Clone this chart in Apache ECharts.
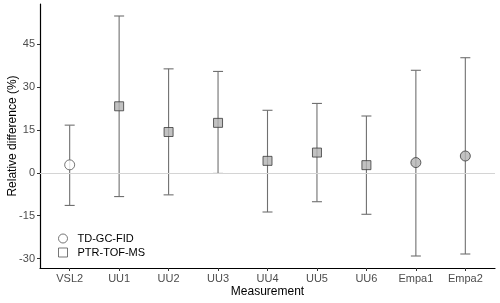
<!DOCTYPE html>
<html><head><meta charset="utf-8">
<script src="https://cdn.jsdelivr.net/npm/echarts@6/dist/echarts.min.js"></script>
<style>html,body{margin:0;padding:0;background:#fff}#c{width:500px;height:303px}</style>
</head><body><div id="c"></div>
<script>
var categories = ['VSL2','UU1','UU2','UU3','UU4','UU5','UU6','Empa1','Empa2'];
var methods = ['TD-GC-FID','PTR-TOF-MS','PTR-TOF-MS','PTR-TOF-MS','PTR-TOF-MS','PTR-TOF-MS','PTR-TOF-MS','TD-GC-FID','TD-GC-FID'];
var meanValues = [2.8, 23.3, 14.3, 17.5, 4.2, 7.1, 2.7, 3.6, 5.9];
var upperValues = [16.7, 54.9, 36.4, 35.5, 21.9, 24.3, 19.9, 35.9, 40.3];
var lowerValues = [-11.4, -8.3, -7.7, -0.2, -13.7, -10.1, -14.5, -29.1, -28.4];
var hollow = [true, false, false, false, false, false, false, false, false];
var yTicks = [-30, -15, 0, 15, 30, 45];

var font = 'Liberation Sans, Arial, sans-serif';
var xPos = categories.map(function(c, i){ return i + 1; });

function pointsFor(name){
  var out = [];
  categories.forEach(function(c, i){
    if (methods[i] !== name) return;
    out.push({value: [xPos[i], meanValues[i]], itemStyle: {color: hollow[i] ? '#ffffff' : '#b3b3b3', borderColor: hollow[i] ? '#555555' : '#3a3a3a'}});
  });
  return out;
}

var errData = categories.map(function(c, i){ return [xPos[i], lowerValues[i], upperValues[i]]; });

var chart = echarts.init(document.getElementById('c'), null, {renderer: 'canvas'});
chart.setOption({
  animation: false,
  backgroundColor: '#ffffff',
  grid: {left: 40, right: 5, top: 4, bottom: 35, containLabel: false, outerBoundsMode: 'none'},
  xAxis: {
    type: 'value', min: 0.4, max: 9.6,
    name: 'Measurement', nameLocation: 'middle', nameGap: 18, nameMoveOverlap: false,
    nameTextStyle: {color: '#000', fontSize: 12, fontFamily: font},
    axisLine: {show: true, onZero: false, lineStyle: {color: '#000', width: 1.2}},
    axisTick: {show: true, length: 3, lineStyle: {color: '#333'}, customValues: xPos},
    axisLabel: {color: '#4d4d4d', fontSize: 11, fontFamily: font, margin: 5, customValues: xPos,
      formatter: function(v){ return categories[Math.round(v) - 1] || ''; }},
    splitLine: {show: false}
  },
  yAxis: {
    type: 'value', min: -33.3, max: 59.1,
    name: 'Relative difference (%)', nameLocation: 'middle', nameGap: 21, nameMoveOverlap: false,
    nameTextStyle: {color: '#000', fontSize: 12, fontFamily: font},
    axisLine: {show: true, onZero: false, lineStyle: {color: '#000', width: 1.2}},
    axisTick: {show: true, length: 3, lineStyle: {color: '#333'}, customValues: yTicks},
    axisLabel: {color: '#4d4d4d', fontSize: 11, fontFamily: font, margin: 5, customValues: yTicks},
    splitLine: {show: false}
  },
  legend: {
    orient: 'vertical', left: 58, top: 232, padding: 0, itemWidth: 9, itemHeight: 9, itemGap: 1,
    textStyle: {color: '#000', fontSize: 11, fontFamily: font, padding: [0, 0, 0, 5], lineHeight: 13},
    data: [
      {name: 'TD-GC-FID', icon: 'circle', itemStyle: {color: '#fff', borderColor: '#555', borderWidth: 1}},
      {name: 'PTR-TOF-MS', icon: 'rect', itemStyle: {color: '#fff', borderColor: '#555', borderWidth: 1}}
    ]
  },
  series: [
    {
      type: 'custom', name: 'err', silent: true, z: 2,
      data: errData,
      encode: {x: 0, y: [1, 2]},
      renderItem: function(params, api){
        var x = api.value(0);
        var lo = api.coord([x, api.value(1)]);
        var hi = api.coord([x, api.value(2)]);
        var w = 5;
        var st = {stroke: '#707070', lineWidth: 1.1};
        return {type: 'group', children: [
          {type: 'line', shape: {x1: lo[0], y1: lo[1], x2: hi[0], y2: hi[1]}, style: st},
          {type: 'line', shape: {x1: lo[0]-w, y1: lo[1], x2: lo[0]+w, y2: lo[1]}, style: st},
          {type: 'line', shape: {x1: hi[0]-w, y1: hi[1], x2: hi[0]+w, y2: hi[1]}, style: st}
        ]};
      },
      markLine: {
        silent: true, symbol: 'none', label: {show: false},
        lineStyle: {color: '#d4d4d4', width: 1, type: 'solid'},
        data: [{yAxis: 0}]
      }
    },
    {
      type: 'scatter', name: 'TD-GC-FID', symbol: 'circle', symbolSize: 10, z: 3,
      itemStyle: {color: '#fff', borderColor: '#555', borderWidth: 1},
      data: pointsFor('TD-GC-FID')
    },
    {
      type: 'scatter', name: 'PTR-TOF-MS', symbol: 'rect', symbolSize: 9, z: 3,
      itemStyle: {color: '#fff', borderColor: '#555', borderWidth: 1},
      data: pointsFor('PTR-TOF-MS')
    }
  ]
});
</script></body></html>
